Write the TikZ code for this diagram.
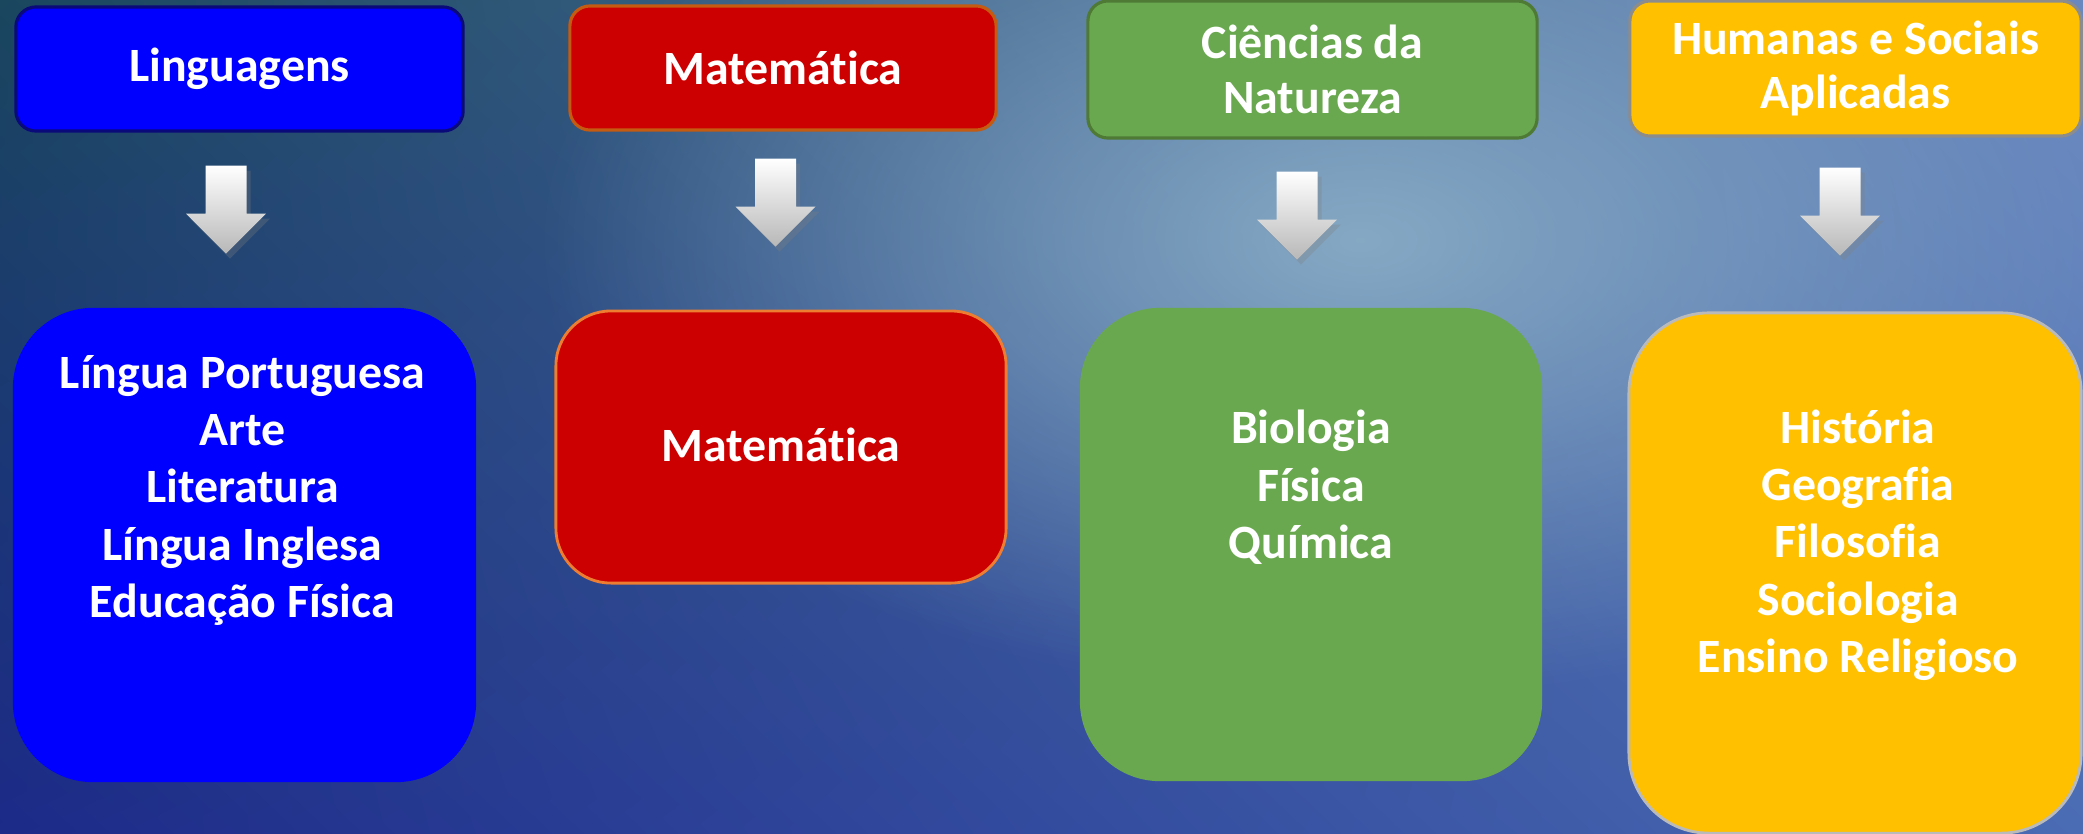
\documentclass[tikz,border=0pt]{standalone}
\usepackage{fontspec}
\setmainfont{Carlito}[Ligatures=NoCommon]
\usepackage{tikz}
\usetikzlibrary{positioning,calc,shadows,fadings,shadings}
\definecolor{lingblue}{HTML}{0000FF}
\definecolor{lingedge}{HTML}{0A0A7A}
\definecolor{matred}{HTML}{CC0000}
\definecolor{matedge}{HTML}{C55A11}
\definecolor{matedgeb}{HTML}{ED7D31}
\definecolor{cienfill}{HTML}{6AA84F}
\definecolor{cienedge}{HTML}{4E7A35}
\definecolor{humfill}{HTML}{FFC000}
\definecolor{humedge}{HTML}{8C8C8C}
\definecolor{bgUL}{HTML}{1A465E}
\definecolor{bgUR}{HTML}{6A88C0}
\definecolor{bgLL}{HTML}{1C2A88}
\definecolor{bgLR}{HTML}{4A6CB4}
\definecolor{bgHi}{HTML}{8CB0C8}
\tikzfading[name=glow, inner color=transparent!0, outer color=transparent!100]
\tikzset{
  area/.style={rounded corners=0.2cm, line width=0.9pt, text=white, align=center,
               font=\fontsize{13.6}{15.6}\selectfont\bfseries, inner sep=0pt},
  subj/.style={rounded corners=0.8cm, line width=0.8pt},
  txt/.style={text=white, align=center, font=\fontsize{13.6}{16.3}\selectfont\bfseries, inner sep=0pt},
  blockarr/.style={top color=white, bottom color=black!28, draw=none,
                   drop shadow={shadow xshift=0.04cm, shadow yshift=-0.05cm, opacity=0.3}},
}

\begin{document}
\begin{tikzpicture}[x=0.01cm, y=-0.01cm]
  % background
  \useasboundingbox (0,0) rectangle (2083,833);
  \shade[upper left=bgUL, upper right=bgUR, lower left=bgLL, lower right=bgLR] (0,0) rectangle (2083,833);
  \fill[bgHi, opacity=0.9, path fading=glow] (1360,240) ellipse (8.2cm and 4.6cm);
  % areas (top row)
  \node[area, fill=lingblue, draw=lingedge, minimum width=4.47cm, minimum height=1.24cm] (ling) at (239.5,69) {Linguagens};
  \node[area, fill=matred, draw=matedge, minimum width=4.26cm, minimum height=1.24cm] (mat) at (783,68) {Matemática};
  \node[area, fill=cienfill, draw=cienedge, minimum width=4.49cm, minimum height=1.37cm] (cien) at (1312.5,69.5) {Ciências da\\Natureza};
  \node[area, fill=humfill, draw=humedge, minimum width=4.51cm, minimum height=1.35cm] (hum) at (1855.5,68.5) {Humanas e Sociais\\Aplicadas};
  % subjects (bottom row)
  \node[subj, fill=lingblue, minimum width=4.63cm, minimum height=4.74cm] (lingD) at (244.5,545) {};
  \node[subj, fill=matred, draw=matedgeb, rounded corners=0.55cm, minimum width=4.5cm, minimum height=2.72cm] (matD) at (781,447) {};
  \node[subj, fill=cienfill, minimum width=4.62cm, minimum height=4.73cm] (cienD) at (1311,544.5) {};
  \node[subj, fill=humfill, draw=humedge!60, minimum width=4.52cm, minimum height=5.2cm] (humD) at (1855,573) {};
  % last baseline of each list
  \node[txt, anchor=base] (lingL) at ($(lingD.north)+(-2,311)$) {Língua Portuguesa\\Arte\\Literatura\\Língua Inglesa\\Educação Física};
  \node[txt, anchor=base] (matL) at ($(matD.north)+(0,152)$) {Matemática};
  \node[txt, anchor=base] (cienL) at ($(cienD.north)+(0,252)$) {Biologia\\Física\\Química};
  \node[txt, anchor=base] (humL) at ($(humD.north)+(3,361)$) {História\\Geografia\\Filosofia\\Sociologia\\Ensino Religioso};
  % block arrows
  \foreach \n/\dx/\dy in {ling/-13.5/33, mat/-7.5/27, cien/-15.5/32, hum/-15.5/30} {
    \shade[blockarr] ($(\n.south)+(\dx-20.5,\dy)$) -- ++(41,0) -- ++(0,48) -- ++(19.5,0)
      -- ++(-40,40) -- ++(-40,-40) -- ++(19.5,0) -- cycle;
  }
\end{tikzpicture}
\end{document}
